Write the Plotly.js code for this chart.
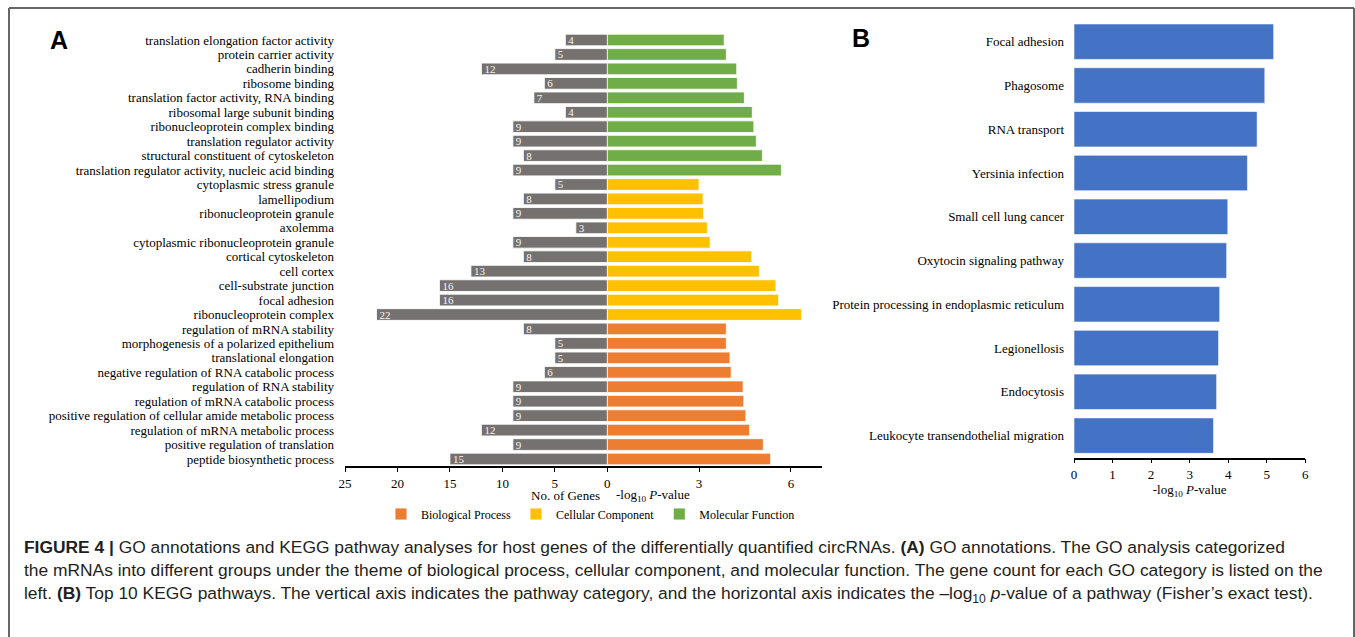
<!DOCTYPE html>
<html>
<head>
<meta charset="utf-8">
<script src="https://cdn.plot.ly/plotly-3.0.1.min.js"></script>
<style>html,body{margin:0;padding:0;background:#fff;}#chart{width:1355px;height:637px;}</style>
</head>
<body>
<div id="chart"></div>
<script>
// ---- Panel A data (top to bottom) ----
const mfTerms = ["translation elongation factor activity","protein carrier activity","cadherin binding","ribosome binding","translation factor activity, RNA binding","ribosomal large subunit binding","ribonucleoprotein complex binding","translation regulator activity","structural constituent of cytoskeleton","translation regulator activity, nucleic acid binding"];
const mfGenes = [4,5,12,6,7,4,9,9,8,9];
const mfPval  = [3.82,3.89,4.23,4.25,4.48,4.74,4.79,4.87,5.07,5.69];

const ccTerms = ["cytoplasmic stress granule","lamellipodium","ribonucleoprotein granule","axolemma","cytoplasmic ribonucleoprotein granule","cortical cytoskeleton","cell cortex","cell-substrate junction","focal adhesion","ribonucleoprotein complex"];
const ccGenes = [5,8,9,3,9,8,13,16,16,22];
const ccPval  = [3.00,3.13,3.15,3.27,3.36,4.72,4.97,5.51,5.60,6.35];

const bpTerms = ["regulation of mRNA stability","morphogenesis of a polarized epithelium","translational elongation","negative regulation of RNA catabolic process","regulation of RNA stability","regulation of mRNA catabolic process","positive regulation of cellular amide metabolic process","regulation of mRNA metabolic process","positive regulation of translation","peptide biosynthetic process"];
const bpGenes = [8,5,5,6,9,9,9,12,9,15];
const bpPval  = [3.89,3.89,4.01,4.05,4.44,4.46,4.53,4.65,5.10,5.34];

const groupNames = ["Biological Process","Cellular Component","Molecular Function"];
const groupColors = ["#ed7d31","#ffc000","#70ad47"];
const geneTicks = [25,20,15,10,5,0];
const pTicksA = [3,6];

// ---- Panel B data (top to bottom) ----
const keggTerms = ["Focal adhesion","Phagosome","RNA transport","Yersinia infection","Small cell lung cancer","Oxytocin signaling pathway","Protein processing in endoplasmic reticulum","Legionellosis","Endocytosis","Leukocyte transendothelial migration"];
const keggPval = [5.18,4.95,4.75,4.50,3.99,3.96,3.78,3.75,3.70,3.62];
const pTicksB = [0,1,2,3,4,5,6];

const W = 1355, H = 637;
const px = v => v / W;
const py = v => 1 - v / H;

const allTerms = mfTerms.concat(ccTerms, bpTerms);
const allGenes = mfGenes.concat(ccGenes, bpGenes);

const serif = "Liberation Serif, Times New Roman, serif";
const sans = "Liberation Sans, Arial, sans-serif";
const capFont = {family: "Liberation Sans, Arial, sans-serif", size: 17.4, color: "#231f20"};

const traces = [];
traces.push({
  type: "bar", orientation: "h", x: allGenes, y: allTerms, xaxis: "x", yaxis: "y",
  marker: {color: "#767171", line: {color: "rgba(255,255,255,0.85)", width: 1}},
  text: allGenes.map(String), textposition: "inside", insidetextanchor: "end",
  textangle: 0, constraintext: "none",
  textfont: {family: serif, size: 11, color: "#f4f4f4"},
  showlegend: false, hoverinfo: "x+y"
});
const groups = [[bpTerms, bpPval], [ccTerms, ccPval], [mfTerms, mfPval]];
groups.forEach((g, i) => {
  traces.push({
    type: "bar", orientation: "h", x: g[1], y: g[0], xaxis: "x2", yaxis: "y",
    name: groupNames[i],
    marker: {color: groupColors[i], line: {color: "rgba(255,255,255,0.85)", width: 1}},
    hoverinfo: "x+y"
  });
});
traces.push({
  type: "bar", orientation: "h", x: keggPval, y: keggTerms, xaxis: "x3", yaxis: "y2",
  marker: {color: "#4472c4", line: {color: "rgba(255,255,255,0.6)", width: 1}},
  showlegend: false, hoverinfo: "x+y"
});

const tickFont = {family: serif, size: 13, color: "#000"};
const layout = {
  width: W, height: H,
  margin: {l: 0, r: 0, t: 0, b: 0},
  paper_bgcolor: "#fff", plot_bgcolor: "rgba(0,0,0,0)",
  barmode: "overlay", bargap: 0.19,
  font: {family: serif, size: 13, color: "#000"},
  showlegend: true,
  legend: {
    orientation: "h", x: px(381), xanchor: "left", y: py(514), yanchor: "middle",
    font: {family: serif, size: 12, color: "#000"}, traceorder: "normal",
    itemwidth: 30, bgcolor: "rgba(0,0,0,0)"
  },
  xaxis: {
    domain: [px(345), px(607.3)], range: [25, 0], anchor: "y",
    tickmode: "array", tickvals: geneTicks, ticks: "outside", ticklen: 4, tickcolor: "#000",
    showline: true, linecolor: "#000", linewidth: 1.5, showgrid: false, zeroline: false,
    tickfont: tickFont, fixedrange: true
  },
  xaxis2: {
    domain: [px(607.3), px(821.5)], range: [0, 7], anchor: "y",
    tickmode: "array", tickvals: pTicksA, ticks: "outside", ticklen: 4, tickcolor: "#000",
    showline: true, linecolor: "#000", linewidth: 1.5, showgrid: false, zeroline: false,
    tickfont: tickFont, fixedrange: true
  },
  yaxis: {
    domain: [py(466.2), py(32.8)], anchor: "x", type: "category",
    categoryorder: "array", categoryarray: allTerms, autorange: "reversed",
    tickmode: "array", tickvals: allTerms, ticktext: allTerms,
    showline: false, ticks: "", showgrid: false, zeroline: false,
    tickfont: {family: serif, size: 13, color: "#000"}, ticklabelstandoff: 10, fixedrange: true
  },
  xaxis3: {
    domain: [px(1074), px(1305.3)], range: [0, 6], anchor: "y2",
    tickmode: "array", tickvals: pTicksB, ticks: "outside", ticklen: 4, tickcolor: "#000",
    showline: true, linecolor: "#000", linewidth: 1.5, showgrid: false, zeroline: false,
    tickfont: tickFont, fixedrange: true,
    title: {text: "-log<sub>10</sub> <i>P</i>-value", font: {family: serif, size: 13, color: "#000"}, standoff: 3}
  },
  yaxis2: {
    domain: [py(457.5), py(19.8)], anchor: "x3", type: "category",
    categoryorder: "array", categoryarray: keggTerms, autorange: "reversed",
    tickmode: "array", tickvals: keggTerms, ticktext: keggTerms,
    showline: false, ticks: "", showgrid: false, zeroline: false,
    tickfont: {family: serif, size: 13, color: "#000"}, ticklabelstandoff: 9, fixedrange: true
  },
  shapes: [
    {type: "line", xref: "paper", yref: "paper", x0: px(9), x1: px(1354), y0: py(8), y1: py(8), line: {color: "#666", width: 2}},
    {type: "line", xref: "paper", yref: "paper", x0: px(9), x1: px(9), y0: py(8), y1: 0, line: {color: "#666", width: 2}},
    {type: "line", xref: "paper", yref: "paper", x0: px(1354), x1: px(1354), y0: py(8), y1: 0, line: {color: "#666", width: 2}}
  ],
  annotations: [
    {text: "<b>A</b>", xref: "paper", yref: "paper", x: px(48), y: py(40), xanchor: "left", yanchor: "middle", showarrow: false, font: {family: sans, size: 25, color: "#000"}},
    {text: "<b>B</b>", xref: "paper", yref: "paper", x: px(850), y: py(38), xanchor: "left", yanchor: "middle", showarrow: false, font: {family: sans, size: 25, color: "#000"}},
    {text: "No. of Genes", xref: "paper", yref: "paper", x: px(565.5), y: py(495.5), xanchor: "center", yanchor: "middle", showarrow: false, font: {family: serif, size: 13, color: "#000"}},
    {text: "-log<sub>10</sub> <i>P</i>-value", xref: "paper", yref: "paper", x: px(653), y: py(495.5), xanchor: "center", yanchor: "middle", showarrow: false, font: {family: serif, size: 13, color: "#000"}},
    {text: "<b>FIGURE 4 |</b> GO annotations and KEGG pathway analyses for host genes of the differentially quantified circRNAs. <b>(A)</b> GO annotations. The GO analysis categorized", xref: "paper", yref: "paper", x: px(22), y: py(547), xanchor: "left", yanchor: "middle", showarrow: false, font: capFont},
    {text: "the mRNAs into different groups under the theme of biological process, cellular component, and molecular function. The gene count for each GO category is listed on the", xref: "paper", yref: "paper", x: px(22), y: py(570), xanchor: "left", yanchor: "middle", showarrow: false, font: capFont},
    {text: "left. <b>(B)</b> Top 10 KEGG pathways. The vertical axis indicates the pathway category, and the horizontal axis indicates the \u2013log<sub>10</sub> <i>p</i>-value of a pathway (Fisher\u2019s exact test).", xref: "paper", yref: "paper", x: px(22), y: py(594), xanchor: "left", yanchor: "middle", showarrow: false, font: capFont}
  ]
};

Plotly.newPlot("chart", traces, layout, {displayModeBar: false, staticPlot: false});
</script>
</body>
</html>
